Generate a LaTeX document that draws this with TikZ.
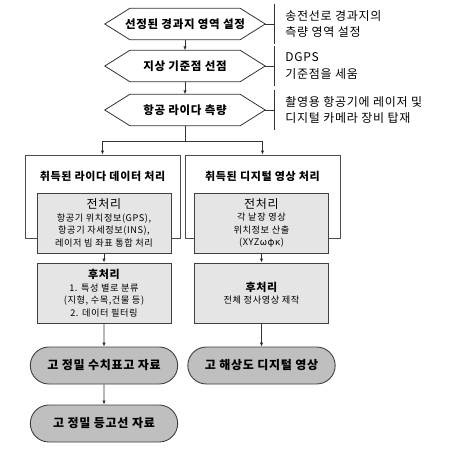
\documentclass[tikz,border=0pt]{standalone}
\usepackage{fontspec}
\setmainfont{Noto Sans CJK KR}[LetterSpace=6]
\usetikzlibrary{positioning, arrows.meta, shapes.misc}
\tikzset{
  hexbox/.style={minimum width=160, minimum height=31, inner sep=0, font=\fontsize{11.5}{13}\selectfont\bfseries},
  groupbox/.style={draw=black!70, line width=0.9pt, fill=white, minimum width=155, minimum height=83, inner sep=0},
  grouptitle/.style={inner sep=0, font=\fontsize{11}{13}\selectfont\bfseries},
  stepbox/.style={draw=black!75, line width=0.9pt, fill=gray!20, minimum width=134, minimum height=60, align=center, inner sep=1pt, font=\fontsize{9.2}{12.5}\selectfont},
  endbox/.style={rounded rectangle, draw=black!75, line width=0.9pt, fill=gray!50, minimum width=154, minimum height=37, font=\fontsize{12}{14}\selectfont\bfseries},
  note/.style={anchor=west, align=left, inner sep=0, font=\fontsize{12}{16.5}\selectfont},
  link/.style={draw=black!80, line width=0.8pt},
  arrow/.style={link, -{Latex[length=4pt,width=3.5pt]}},
}
\begin{document}
\begin{tikzpicture}[x=1pt,y=-1pt]
    \fill[white] (0,0) rectangle (450,450);
    \useasboundingbox (0,0) rectangle (450,450);

    % Survey steps
    \node[hexbox] (h1) at (185,24) {선정된 경과지 영역 설정};
    \node[hexbox] (h2) at (185,66) {지상 기준점 선점};
    \node[hexbox] (h3) at (185,110) {항공 라이다 측량};
    \foreach \h in {h1,h2,h3}
        \draw[link] (\h.west) -- ([xshift=25]\h.north west) -- ([xshift=-25]\h.north east) -- (\h.east) -- ([xshift=-25]\h.south east) -- ([xshift=25]\h.south west) -- cycle;

    % Notes
    \draw[link] (h1.east) -- ++(9,0) coordinate (b1) ++(0,-20) -- ++(0,40);
    \draw[link] (h2.east) -- ++(9,0) coordinate (b2) ++(0,-20) -- ++(0,40);
    \draw[link] (h3.east) -- ++(9,0) coordinate (b3) ++(0,-20) -- ++(0,40);
    \node[note] (n1) at ([xshift=11]b1) {송전선로 경과지의\\측량 영역 설정};
    \node[note] (n2) at ([xshift=11]b2) {DGPS\\기준점을 세움};
    \node[note] (n3) at ([xshift=11]b3) {촬영용 항공기에 레이저 및\\디지털 카메라 장비 탑재};

    \draw[arrow] (h1) -- (h2);
    \draw[arrow] (h2) -- (h3);

    % Processing groups
    \node[groupbox] (lbox) at (102.5,196.5) {};
    \node[groupbox] (rbox) at (262.5,196.5) {};
    \node[grouptitle] (ltitle) at (102.5,176) {취득된 라이다 데이터 처리};
    \node[grouptitle] (rtitle) at (262.5,176) {취득된 디지털 영상 처리};

    \draw[link] (h3.south) -- ++(0,16) coordinate (split);
    \draw[arrow] (split) -| (lbox.north);
    \draw[arrow] (split) -| (rbox.north);

    \node[stepbox] (lpre) at (104,223) {{\fontsize{12}{14}\selectfont 전처리}\\항공기 위치정보(GPS),\\항공기 자세정보(INS),\\레이저 빔 좌표 통합 처리};
    \node[stepbox] (rpre) at (261.5,223) {{\fontsize{12}{14}\selectfont 전처리}\\각 낱장 영상\\위치정보 산출\\(XYZωφκ)};
    \node[stepbox] (lpost) at (104,293) {{\fontsize{11}{13}\selectfont\bfseries 후처리}\\1. 특성 별로 분류\\(지형, 수목,건물 등)\\2. 데이터 필터링};
    \node[stepbox] (rpost) at (261.5,293) {{\fontsize{11}{13}\selectfont\bfseries 후처리}\\전체 정사영상 제작};

    % Results
    \node[endbox] (lout) at (104,365.5) {고 정밀 수치표고 자료};
    \node[endbox] (rout) at (261.5,365.5) {고 해상도 디지털 영상};
    \node[endbox] (lcont) at (104,423.5) {고 정밀 등고선 자료};

    \draw[arrow] (lpre) -- (lpost);
    \draw[arrow] (rpre) -- (rpost);
    \draw[arrow] (lpost) -- (lout);
    \draw[arrow] (rpost) -- (rout);
    \draw[arrow] (lout) -- (lcont);
\end{tikzpicture}
\end{document}
